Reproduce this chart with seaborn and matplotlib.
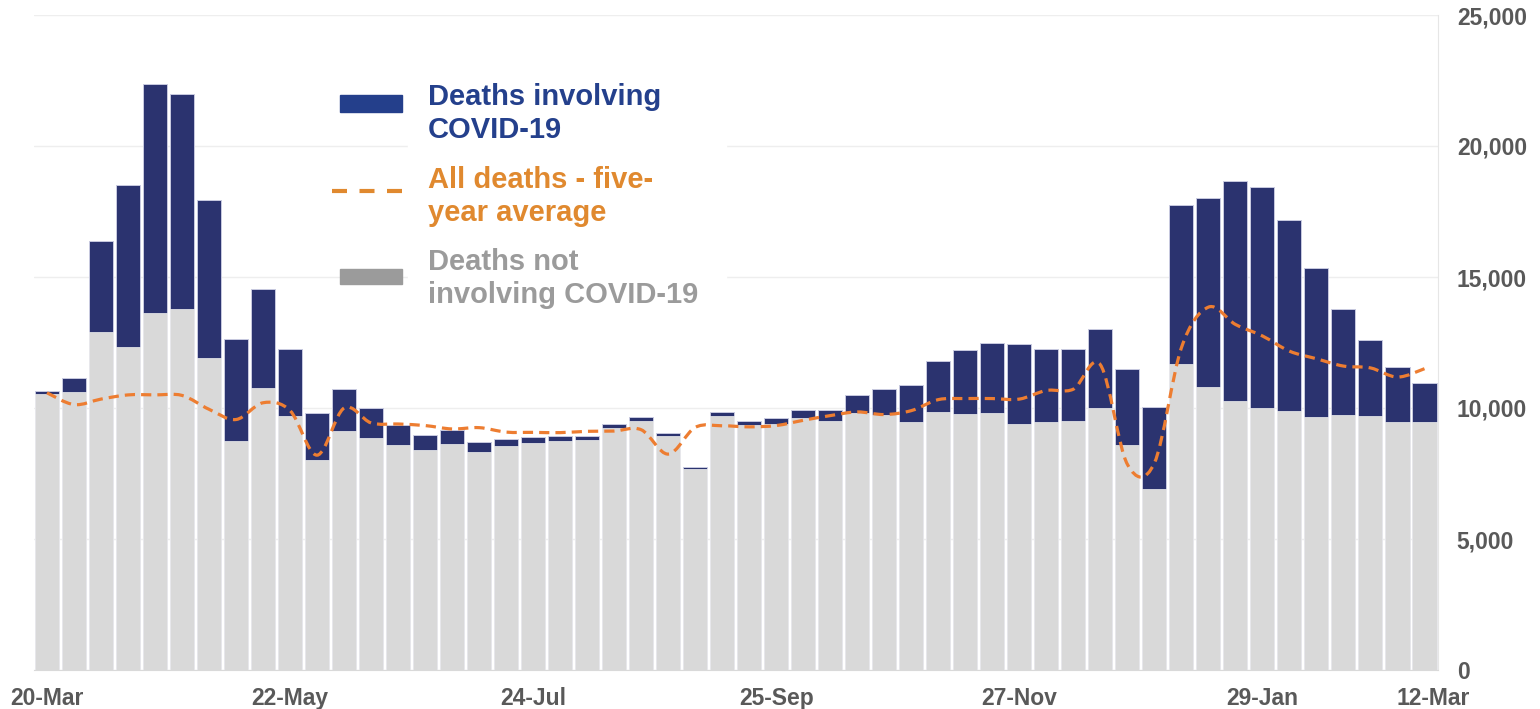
# Weekly deaths, England & Wales: COVID-19 vs not, with five-year average
import numpy as np
import pandas as pd
import matplotlib
matplotlib.use("Agg")
import matplotlib.pyplot as plt
from matplotlib.path import Path
from matplotlib.patches import PathPatch, Rectangle
from matplotlib.lines import Line2D
from matplotlib.transforms import offset_copy
import seaborn as sns

# -------------------------
# Data
# -------------------------
weeks = pd.date_range("2020-03-20", periods=52, freq="7D").strftime("%d-%b").tolist()

covid = [120, 550, 3480, 6210, 8730, 8240, 6030, 3920, 3800, 2560,
         1810, 1600, 1130, 790, 600, 540, 380, 290, 230, 190,
         160, 150, 150, 100, 80, 130, 130, 230, 300, 420,
         690, 980, 1380, 1940, 2460, 2690, 3050, 2820, 2750, 2990,
         2900, 3140, 6060, 7230, 8420, 8430, 7310, 5680, 4070, 2910,
         2080, 1490]

non_covid = [10520, 10600, 12910, 12320, 13620, 13760, 11920, 8730, 10760, 9710,
             8000, 9110, 8860, 8570, 8380, 8610, 8310, 8540, 8680, 8750,
             8780, 9240, 9490, 8930, 7660, 9710, 9370, 9390, 9620, 9500,
             9810, 9730, 9480, 9850, 9770, 9810, 9390, 9450, 9520, 10010,
             8600, 6910, 11690, 10800, 10250, 10010, 9870, 9660, 9720, 9700,
             9480, 9480]

five_year_avg = [10580, 10130, 10340, 10500, 10500, 10480, 9950, 9560, 10200, 9900,
                 8200, 10000, 9430, 9390, 9330, 9200, 9250, 9080, 9070, 9060,
                 9110, 9120, 9170, 8240, 9260, 9320, 9280, 9330, 9530, 9710,
                 9850, 9750, 9900, 10320, 10360, 10360, 10340, 10670, 10720, 11650,
                 7850, 7900, 12300, 13850, 13190, 12750, 12170, 11880, 11600, 11530,
                 11180, 11500]

tick_labels = ["20-Mar", "22-May", "24-Jul", "25-Sep", "27-Nov", "29-Jan", "12-Mar"]
y_ticks = [0, 5000, 10000, 15000, 20000, 25000]

df = pd.DataFrame({"week": weeks, "covid": covid,
                   "non_covid": non_covid, "avg": five_year_avg})
df["total"] = df.covid + df.non_covid

# -------------------------
# Style
# -------------------------
NAVY = "#2b336f"
GREY = "#d9d9d9"
ORANGE = "#ed7d31"
TICK = "#595959"

sns.set_style("white")
plt.rcParams["font.family"] = ["Liberation Sans", "DejaVu Sans"]
plt.rcParams["font.weight"] = "bold"

fig, ax = plt.subplots(figsize=(15.4, 7.09), dpi=100)
fig.subplots_adjust(left=33.5 / 1540, right=1438 / 1540,
                    bottom=1 - 670 / 709, top=1 - 15 / 709)

# stacked bars: total (navy) underneath, non-covid (grey) on top
sns.barplot(data=df, x="week", y="total", color=NAVY, saturation=1,
            width=0.89, edgecolor="#c8cae0", linewidth=0.7,
            errorbar=None, ax=ax, zorder=2)
sns.barplot(data=df, x="week", y="non_covid", color=GREY, saturation=1,
            width=0.89, edgecolor="#f2f2f2", linewidth=0.5,
            errorbar=None, ax=ax, zorder=3)

# smoothed five-year average line (Excel-style bezier through the points)
pts = np.column_stack([np.arange(len(df)), df.avg.to_numpy(dtype=float)])
verts = [pts[0]]
codes = [Path.MOVETO]
n = len(pts)
for i in range(n - 1):
    p0, p1 = pts[max(i - 1, 0)], pts[i]
    p2, p3 = pts[i + 1], pts[min(i + 2, n - 1)]
    verts += [p1 + (p2 - p0) / 6, p2 - (p3 - p1) / 6, p2]
    codes += [Path.CURVE4] * 3
ax.add_patch(PathPatch(Path(verts, codes), fill=False, edgecolor=ORANGE,
                       linewidth=2.3, linestyle=(0, (3.2, 1.9)),
                       transform=ax.transData, zorder=4))

# axes
ax.set_ylim(0, 25000)
ax.set_yticks(y_ticks)
ax.set_yticklabels([f"{v:,}" for v in y_ticks])
ax.yaxis.tick_right()
ax.tick_params(axis="y", length=0, pad=13.5, labelsize=16.5, labelcolor=TICK)
ax.set_xticks([weeks.index(t) for t in tick_labels])
ax.set_xticklabels(tick_labels)
ax.tick_params(axis="x", length=0, pad=12.5, labelsize=16.5, labelcolor=TICK)
ax.set_xlabel("")
ax.set_ylabel("")
# last label sits a little to the right in the original
last = ax.get_xticklabels()[-1]
last.set_transform(offset_copy(last.get_transform(), fig=fig, x=9, units="dots"))

ax.grid(axis="y", color="#eeeeee", linewidth=1)
ax.set_axisbelow(True)
for side in ["top", "left"]:
    ax.spines[side].set_visible(False)
ax.spines["right"].set_color("#e6e6e6")
ax.spines["bottom"].set_color("#d9d9d9")


# -------------------------
# Legend (drawn by hand to match the layout)
# -------------------------
def fx(px):
    return px / 1540


def fy(py):
    return 1 - py / 709


fig.patches.append(Rectangle((fx(408), fy(318)), fx(318), 243 / 709,
                             transform=fig.transFigure, color="white", zorder=1))
fig.patches.append(Rectangle((fx(340), fy(112)), fx(62), 17 / 709,
                             transform=fig.transFigure, color="#243f8b", zorder=2))
fig.lines.append(Line2D([fx(332), fx(404)], [fy(191), fy(191)],
                        transform=fig.transFigure, color="#e0892f",
                        linewidth=3, linestyle=(0, (3.6, 3.0)), zorder=2))
fig.patches.append(Rectangle((fx(340), fy(284)), fx(62), 15 / 709,
                             transform=fig.transFigure, color="#9b9b9b", zorder=2))

legend_items = [("Deaths involving\nCOVID-19", "#24408c", 113.5),
                ("All deaths - five-\nyear average", "#e0892f", 196.5),
                ("Deaths not\ninvolving COVID-19", "#9b9b9b", 278.5)]
for label, col, ypx in legend_items:
    fig.text(fx(428), fy(ypx), label, color=col, fontsize=21,
             fontweight="bold", va="center", ha="left", linespacing=1.26,
             zorder=3)

fig.savefig("out.png", dpi=100)
